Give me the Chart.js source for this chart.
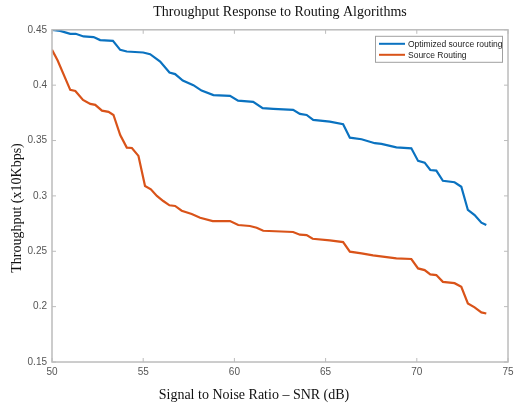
<!DOCTYPE html>
<html>
<head>
<meta charset="utf-8">
<script src="https://cdn.jsdelivr.net/npm/chart.js@4.4.0/dist/chart.umd.min.js"></script>
<style>
  html, body { margin: 0; padding: 0; background: #fff; }
  #wrap { width: 525px; height: 406px; }
</style>
</head>
<body>
<div id="wrap"><canvas id="myChart" width="525" height="406"></canvas></div>
<script>
// 数据：从图上读出来的点
var optX = [50.0, 50.45, 51.0, 51.3, 51.73, 52.28, 52.64, 53.34, 53.74, 54.1, 55.0, 55.38, 55.93, 56.44, 56.75, 57.17, 57.75, 58.2, 58.85, 59.76,
            60.2, 61.03, 61.55, 62.13, 63.22, 63.59, 63.96, 64.32, 65.23, 65.96, 66.33, 66.97, 67.7, 68.06, 68.88, 69.7,
            70.07, 70.43, 70.74, 71.07, 71.43, 72.07, 72.44, 72.8, 73.17, 73.54, 73.81];
var optY = [0.450, 0.449, 0.4464, 0.4464, 0.444, 0.4434, 0.4407, 0.440, 0.4319, 0.4304, 0.4295, 0.428, 0.4213, 0.4114, 0.410, 0.4042, 0.400, 0.3951, 0.391, 0.3903,
            0.386, 0.3849, 0.3792, 0.3786, 0.3777, 0.374, 0.3731, 0.3686, 0.3671, 0.3647, 0.3526, 0.3512, 0.3476, 0.347, 0.3439, 0.343,
            0.3316, 0.330, 0.3234, 0.3228, 0.3137, 0.3123, 0.3083, 0.2873, 0.2827, 0.2758, 0.2737];

var srcX = [50.0, 50.31, 51.0, 51.28, 51.7, 52.1, 52.37, 52.74, 53.1, 53.37, 53.74, 54.1, 54.38, 54.74, 55.1, 55.42, 55.75, 56.1, 56.44, 56.75,
            57.11, 57.66, 58.12, 58.81, 59.76, 60.21, 60.85, 61.22, 61.58, 63.22, 63.59, 63.96, 64.29, 65.23, 65.96, 66.33, 66.97, 67.6,
            68.88, 69.7, 70.07, 70.43, 70.74, 71.07, 71.43, 72.07, 72.44, 72.8, 73.17, 73.54, 73.81];
var srcY = [0.4319, 0.4222, 0.3958, 0.3948, 0.3867, 0.3831, 0.3822, 0.377, 0.3759, 0.3731, 0.355, 0.3436, 0.3433, 0.3361, 0.309, 0.306, 0.300, 0.2954, 0.2915, 0.2909,
            0.2866, 0.2836, 0.2803, 0.2773, 0.2773, 0.2737, 0.2728, 0.2713, 0.2685, 0.2674, 0.265, 0.2646, 0.2613, 0.2598, 0.2583, 0.2496, 0.2481, 0.2463,
            0.2436, 0.243, 0.2345, 0.233, 0.2291, 0.2285, 0.2224, 0.2212, 0.2179, 0.2029, 0.1993, 0.1948, 0.1938];

var seriesNames = ['Optimized source routing', 'Source Routing'];
var seriesColors = ['#0a72c0', '#D95319'];
var xTicks = [50, 55, 60, 65, 70, 75];
var yTicks = [0.15, 0.2, 0.25, 0.3, 0.35, 0.4, 0.45];
var xTitle = 'Signal to Noise Ratio \u2013 SNR (dB)';
var yTitle = 'Throughput (x10Kbps)';

function toPoints(xs, ys) {
    return xs.map(function (x, i) { return { x: x, y: ys[i] }; });
}

// 画边框、朝里的刻度、坐标轴标题，还有图例
var frameBox = {
    id: 'frameBox',
    afterDraw: function (chart) {
        var ctx = chart.ctx, a = chart.chartArea;
        var sx = chart.scales.x, sy = chart.scales.y;
        ctx.save();
        ctx.strokeStyle = '#bcbcbc';
        ctx.lineWidth = 1.5;
        ctx.strokeRect(a.left, a.top, a.right - a.left, a.bottom - a.top);
        ctx.lineWidth = 1;
        ctx.beginPath();
        xTicks.forEach(function (v) {
            var px = sx.getPixelForValue(v);
            ctx.moveTo(px, a.bottom); ctx.lineTo(px, a.bottom - 4);
            ctx.moveTo(px, a.top); ctx.lineTo(px, a.top + 4);
        });
        yTicks.forEach(function (v) {
            var py = sy.getPixelForValue(v);
            ctx.moveTo(a.left, py); ctx.lineTo(a.left + 4, py);
            ctx.moveTo(a.right, py); ctx.lineTo(a.right - 4, py);
        });
        ctx.stroke();

        // 坐标轴标题（原图并不居中）
        ctx.fillStyle = '#111';
        ctx.font = '14px "Liberation Serif", "Times New Roman", serif';
        ctx.textAlign = 'center';
        ctx.textBaseline = 'middle';
        ctx.fillText(xTitle, 254, 395);
        ctx.save();
        ctx.translate(17, 208);
        ctx.rotate(-Math.PI / 2);
        ctx.fillText(yTitle, 0, 0);
        ctx.restore();

        // 图例
        var w = 127, h = 26;
        var lx = a.right - 6 - w, ly = a.top + 6;
        ctx.fillStyle = '#fff';
        ctx.fillRect(lx, ly, w, h);
        ctx.strokeStyle = '#a0a0a0';
        ctx.lineWidth = 1;
        ctx.strokeRect(lx + 0.5, ly + 0.5, w, h);
        ctx.font = '8.5px "Liberation Sans", Arial, sans-serif';
        ctx.textAlign = 'left';
        ctx.textBaseline = 'middle';
        chart.data.datasets.forEach(function (ds, i) {
            var yy = ly + 8 + i * 11;
            ctx.strokeStyle = ds.borderColor;
            ctx.lineWidth = 2;
            ctx.beginPath();
            ctx.moveTo(lx + 4, yy); ctx.lineTo(lx + 30, yy);
            ctx.stroke();
            ctx.fillStyle = '#222';
            ctx.fillText(ds.label, lx + 33, yy + 0.5);
        });
        ctx.restore();
    }
};

var ctx = document.getElementById('myChart').getContext('2d');

var data = {
    datasets: [{
        label: seriesNames[0],
        data: toPoints(optX, optY),
        borderColor: seriesColors[0],
        borderWidth: 2.2,
        pointRadius: 0,
        fill: false,
        tension: 0
    }, {
        label: seriesNames[1],
        data: toPoints(srcX, srcY),
        borderColor: seriesColors[1],
        borderWidth: 2.2,
        pointRadius: 0,
        fill: false,
        tension: 0
    }]
};

var tickFont = { family: '"Liberation Sans", Arial, sans-serif', size: 10 };
var titleFont = { family: '"Liberation Serif", "Times New Roman", serif', size: 14, weight: 'normal' };

var options = {
    responsive: false,
    animation: false,
    layout: { padding: { left: 0, right: 17, top: 0, bottom: 0 } },
    plugins: {
        legend: { display: false },
        tooltip: { enabled: false },
        title: {
            display: true,
            fullSize: false,
            text: 'Throughput Response to Routing Algorithms',
            color: '#111',
            font: titleFont,
            padding: { top: 4, bottom: 9 }
        }
    },
    scales: {
        x: {
            type: 'linear',
            min: 50,
            max: 75,
            afterBuildTicks: function (scale) {
                scale.ticks = xTicks.map(function (v) { return { value: v }; });
            },
            ticks: { color: '#555', font: tickFont, padding: 4, maxRotation: 0 },
            grid: { display: false, drawTicks: false },
            border: { display: false },
            afterFit: function (scale) { scale.height = 44; }
        },
        y: {
            type: 'linear',
            min: 0.15,
            max: 0.45,
            afterBuildTicks: function (scale) {
                scale.ticks = yTicks.map(function (v) { return { value: v }; });
            },
            ticks: {
                color: '#555',
                font: tickFont,
                padding: 5,
                callback: function (v) { return String(Math.round(v * 100) / 100); }
            },
            grid: { display: false, drawTicks: false },
            border: { display: false },
            afterFit: function (scale) { scale.width = 52; }
        }
    }
};

var myChart = new Chart(ctx, {
    type: 'line',
    data: data,
    options: options,
    plugins: [frameBox]
});
</script>
</body>
</html>
